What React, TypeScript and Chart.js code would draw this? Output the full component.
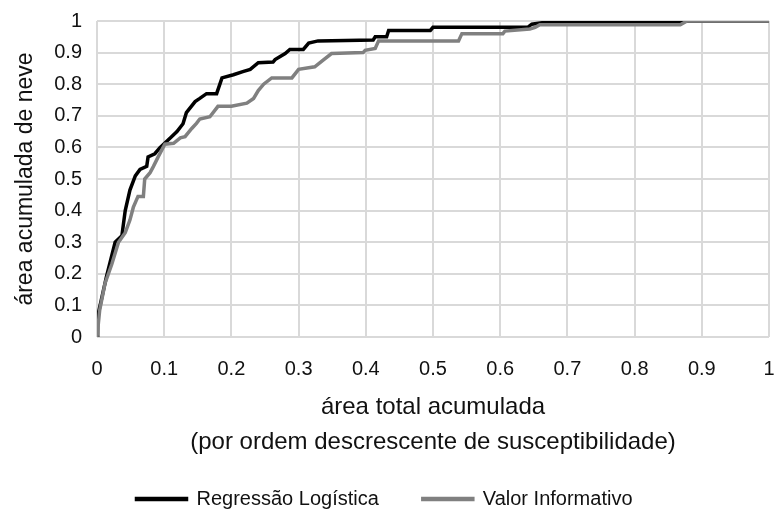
import React, { useEffect, useRef } from "react";
import { Chart, registerables } from "chart.js";

Chart.register(...registerables);

const rlX = [0, 0.001, 0.002, 0.014, 0.027, 0.037, 0.042, 0.049, 0.057, 0.064, 0.074, 0.076, 0.086, 0.094, 0.109, 0.119, 0.128, 0.133, 0.146, 0.153, 0.163, 0.178, 0.186, 0.203, 0.217, 0.228, 0.24, 0.262, 0.265, 0.272, 0.28, 0.287, 0.307, 0.315, 0.329, 0.411, 0.414, 0.431, 0.434, 0.496, 0.5, 0.641, 0.647, 0.664, 0.87, 0.875, 1];
const rlY = [0, 0.05, 0.075, 0.19, 0.3, 0.32, 0.4, 0.465, 0.51, 0.53, 0.54, 0.57, 0.58, 0.6, 0.63, 0.65, 0.675, 0.71, 0.745, 0.755, 0.77, 0.77, 0.82, 0.83, 0.84, 0.847, 0.868, 0.87, 0.878, 0.887, 0.897, 0.91, 0.91, 0.93, 0.937, 0.94, 0.95, 0.95, 0.97, 0.97, 0.98, 0.98, 0.99, 0.995, 0.995, 1, 1];

const viX = [0, 0.004, 0.012, 0.022, 0.032, 0.042, 0.049, 0.054, 0.061, 0.069, 0.071, 0.079, 0.084, 0.091, 0.101, 0.114, 0.124, 0.131, 0.141, 0.148, 0.153, 0.168, 0.18, 0.2, 0.223, 0.233, 0.24, 0.248, 0.26, 0.29, 0.3, 0.324, 0.337, 0.349, 0.396, 0.399, 0.414, 0.419, 0.538, 0.543, 0.604, 0.607, 0.644, 0.652, 0.659, 0.868, 0.878, 1];
const viY = [0, 0.085, 0.17, 0.23, 0.3, 0.33, 0.37, 0.41, 0.445, 0.445, 0.5, 0.52, 0.54, 0.57, 0.61, 0.613, 0.63, 0.634, 0.66, 0.676, 0.69, 0.697, 0.73, 0.73, 0.74, 0.755, 0.78, 0.8, 0.82, 0.82, 0.847, 0.855, 0.877, 0.897, 0.9, 0.907, 0.913, 0.937, 0.937, 0.96, 0.96, 0.968, 0.975, 0.98, 0.988, 0.988, 1, 1];

const seriesNames = ["Regressão Logística", "Valor Informativo"];
const xTitle = ["área total acumulada", "(por ordem descrescente de susceptibilidade)"];
const yTitle = "área acumulada de neve";

const FONT = "'Liberation Sans', Arial, sans-serif";
const TEXT = "#111111";

export default function App() {
  const ref = useRef<HTMLCanvasElement | null>(null);
  useEffect(() => {
    document.body.style.margin = "0";
    const ctx = ref.current!;
    const fmt = (v: any) => String(Math.round(Number(v) * 10) / 10);
    const chart = new Chart(ctx, {
      type: "scatter",
      data: {
        datasets: [
          {
            label: seriesNames[0],
            data: rlX.map((x, i) => ({ x, y: rlY[i] })),
            showLine: true,
            borderColor: "#000000",
            backgroundColor: "#000000",
            borderWidth: 3.5,
            pointRadius: 0,
            tension: 0,
            order: 1,
          },
          {
            label: seriesNames[1],
            data: viX.map((x, i) => ({ x, y: viY[i] })),
            showLine: true,
            borderColor: "#808080",
            backgroundColor: "#808080",
            borderWidth: 3.5,
            pointRadius: 0,
            tension: 0,
            order: 0,
          },
        ],
      },
      options: {
        animation: false,
        responsive: false,
        maintainAspectRatio: false,
        layout: { padding: { left: 0, right: 6, top: 21, bottom: 0 } },
        plugins: {
          tooltip: { enabled: false },
          legend: {
            position: "bottom",
            labels: {
              sort: (a: any, b: any) => a.datasetIndex - b.datasetIndex,
              boxWidth: 50,
              boxHeight: 1,
              color: TEXT,
              font: { family: FONT, size: 20 },
              padding: 44,
            },
          },
        },
        scales: {
          x: {
            type: "linear",
            min: 0,
            max: 1,
            ticks: { stepSize: 0.1, callback: fmt, color: TEXT, font: { family: FONT, size: 20 }, padding: 20, maxRotation: 0 },
            grid: { color: "#d9d9d9", lineWidth: 2, drawTicks: false },
            border: { display: false },
            title: { display: true, text: xTitle, color: TEXT, font: { family: FONT, size: 24, lineHeight: "35px" }, padding: { top: 0, bottom: -15 } },
            afterFit: (s: any) => { s.height = 108; s.paddingLeft = 0; s.paddingRight = 0; },
          },
          y: {
            type: "linear",
            min: 0,
            max: 1,
            ticks: { stepSize: 0.1, callback: fmt, color: TEXT, font: { family: FONT, size: 20 }, padding: 15 },
            grid: { color: "#d9d9d9", lineWidth: 2, drawTicks: false },
            border: { display: false },
            title: { display: true, text: yTitle, color: TEXT, font: { family: FONT, size: 23 }, padding: { top: 12, bottom: 0 } },
            afterFit: (s: any) => { s.width = 97; s.paddingTop = 0; s.paddingBottom = 0; },
          },
        },
      },
    });
    return () => chart.destroy();
  }, []);
  return (
    <div style={{ width: 775, height: 519 }}>
      <canvas ref={ref} width={775} height={519} style={{ display: "block" }} />
    </div>
  );
}
